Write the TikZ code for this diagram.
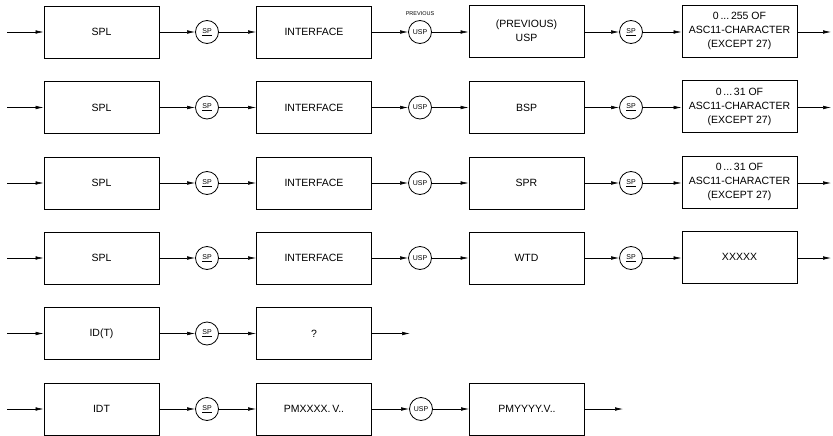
\documentclass[tikz,border=0pt]{standalone}
\usepackage{fontspec}
\setmainfont{Liberation Sans}
\usetikzlibrary{arrows.meta}
\begin{document}
\begin{tikzpicture}[x=1pt,y=-1pt,
  box/.style={draw, line width=0.9pt, minimum width=115pt, minimum height=52pt, inner sep=0pt, align=center, font=\fontsize{10.5}{14}\selectfont},
  sepc/.style={draw, circle, line width=0.8pt, minimum size=23pt, inner sep=0pt, font=\fontsize{7}{8}\selectfont},
  arr/.style={-{Latex[length=8pt,width=3.6pt]}, line width=0.6pt},
  small/.style={font=\fontsize{5.5}{6}\selectfont, inner sep=0pt}]
\useasboundingbox (0,0) rectangle (833,436);

% Row 1
\coordinate (s1) at (7,32);
\node[box] (a1) at (101.5,32) {SPL};
\node[sepc] (b1) at (207,32) {\underline{SP}};
\node[box] (c1) at (314,32) {INTERFACE};
\node[sepc] (d1) at (420,32) {USP};
\node[small] (p1) at (420,14) {PREVIOUS};
\node[box] (f1) at (526.5,31) {(PREVIOUS)\\USP};
\node[sepc] (g1) at (631,32) {\underline{SP}};
\node[box] (h1) at (739.5,31) {0\,...\,255 OF\\ASC11-CHARACTER\\(EXCEPT 27)};
\coordinate (e1) at (831,32);

% Row 2
\coordinate (s2) at (7,107.5);
\node[box] (a2) at (101.5,107.5) {SPL};
\node[sepc] (b2) at (207,107.5) {\underline{SP}};
\node[box] (c2) at (314,107.5) {INTERFACE};
\node[sepc] (d2) at (420,107.5) {USP};
\node[box] (f2) at (526.5,107.5) {BSP};
\node[sepc] (g2) at (631,107.5) {\underline{SP}};
\node[box] (h2) at (739.5,106.5) {0\,...\,31 OF\\ASC11-CHARACTER\\(EXCEPT 27)};
\coordinate (e2) at (831,107.5);

% Row 3
\coordinate (s3) at (7,183);
\node[box] (a3) at (101.5,183) {SPL};
\node[sepc] (b3) at (207,183) {\underline{SP}};
\node[box] (c3) at (314,183) {INTERFACE};
\node[sepc] (d3) at (420,183) {USP};
\node[box] (f3) at (526.5,183) {SPR};
\node[sepc] (g3) at (631,183) {\underline{SP}};
\node[box] (h3) at (739.5,182) {0\,...\,31 OF\\ASC11-CHARACTER\\(EXCEPT 27)};
\coordinate (e3) at (831,183);

% Row 4
\coordinate (s4) at (7,258);
\node[box] (a4) at (101.5,258) {SPL};
\node[sepc] (b4) at (207,258) {\underline{SP}};
\node[box] (c4) at (314,258) {INTERFACE};
\node[sepc] (d4) at (420,258) {USP};
\node[box] (f4) at (526.5,258) {WTD};
\node[sepc] (g4) at (631,258) {\underline{SP}};
\node[box] (h4) at (739.5,257) {XXXXX};
\coordinate (e4) at (831,258);

% Row 5
\coordinate (s5) at (7,333.5);
\node[box] (a5) at (101.5,333.5) {ID(T)};
\node[sepc] (b5) at (207,333.5) {\underline{SP}};
\node[box] (c5) at (314,333.5) {?};
\coordinate (e5) at (410,333.5);

% Row 6
\coordinate (s6) at (7,409);
\node[box] (a6) at (101.5,409) {IDT};
\node[sepc] (b6) at (207,409) {\underline{SP}};
\node[box] (c6) at (314,409) {PMXXXX.\,V..};
\node[sepc] (d6) at (421,409) {USP};
\node[box] (f6) at (527,409) {PMYYYY.V..};
\coordinate (e6) at (623,409);

\foreach \r in {1,2,3,4}{
  \draw[arr] (s\r) -- (a\r);
  \draw[arr] (a\r) -- (b\r);
  \draw[arr] (b\r) -- (c\r);
  \draw[arr] (c\r) -- (d\r);
  \draw[arr] (d\r) -- (f\r.west |- d\r);
  \draw[arr] (f\r.east |- g\r) -- (g\r);
  \draw[arr] (g\r) -- (h\r.west |- g\r);
  \draw[arr] (h\r.east |- e\r) -- (e\r);
}
\draw[arr] (s5) -- (a5);
\draw[arr] (a5) -- (b5);
\draw[arr] (b5) -- (c5);
\draw[arr] (c5) -- (e5);
\draw[arr] (s6) -- (a6);
\draw[arr] (a6) -- (b6);
\draw[arr] (b6) -- (c6);
\draw[arr] (c6) -- (d6);
\draw[arr] (d6) -- (f6);
\draw[arr] (f6) -- (e6);
\end{tikzpicture}
\end{document}
